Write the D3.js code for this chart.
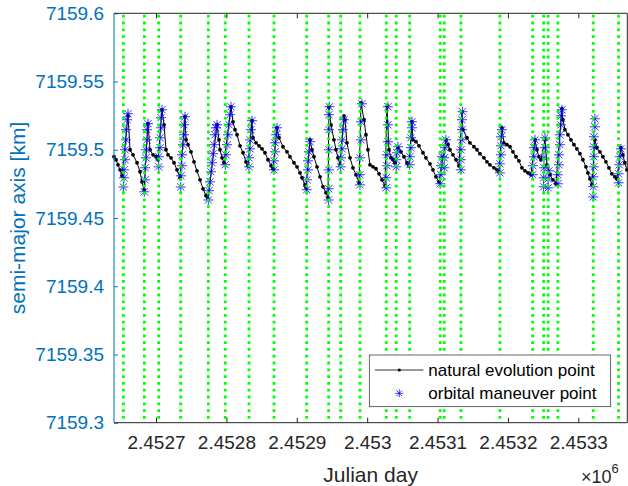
<!DOCTYPE html>
<html>
<head>
<meta charset="utf-8">
<script src="https://cdn.jsdelivr.net/npm/d3@7"></script>
<style>
body { margin: 0; background: #fff; }
svg { display: block; font-family: "Liberation Sans", Arial, Helvetica, sans-serif; }
</style>
</head>
<body>
<script>
// natural evolution points [julian day, semi-major axis km]
var naturalPoints = [
  [2452640.3,7159.4949],[2452643.2,7159.4927],[2452646.0,7159.4890],[2452648.9,7159.4853],[2452651.7,7159.4809],
  [2452660.2,7159.5249],[2452663.1,7159.5000],[2452667.3,7159.4963],[2452673.0,7159.4905],[2452677.3,7159.4839],[2452680.1,7159.4765],[2452683.0,7159.4707],
  [2452688.6,7159.5191],[2452691.5,7159.5000],[2452695.7,7159.4963],[2452700.0,7159.4949],[2452702.8,7159.4927],
  [2452708.5,7159.5293],[2452711.4,7159.5183],[2452714.2,7159.5000],[2452717.0,7159.4963],[2452721.3,7159.4941],[2452725.6,7159.4905],[2452729.8,7159.4853],[2452734.1,7159.4795],
  [2452741.2,7159.5242],[2452742.6,7159.5073],[2452745.5,7159.5037],[2452749.7,7159.4985],[2452754.0,7159.4912],[2452758.2,7159.4846],[2452762.5,7159.4780],[2452766.8,7159.4714],[2452771.0,7159.4663],[2452773.9,7159.4641],
  [2452786.7,7159.5183],[2452789.5,7159.5073],[2452790.9,7159.5000],[2452793.8,7159.4941],[2452796.6,7159.4905],
  [2452806.5,7159.5315],[2452809.4,7159.5205],[2452812.2,7159.5147],[2452815.1,7159.5110],[2452819.3,7159.5029],[2452823.6,7159.4978],[2452827.8,7159.4912],[2452830.7,7159.4883],
  [2452836.4,7159.5213],[2452837.8,7159.5088],[2452842.1,7159.5051],[2452846.3,7159.5029],[2452850.6,7159.5007],[2452854.8,7159.4978],[2452859.1,7159.4927],[2452863.4,7159.4883],[2452866.2,7159.4861],
  [2452871.9,7159.5161],[2452874.7,7159.5088],[2452880.4,7159.5022],[2452886.1,7159.4985],[2452890.3,7159.4949],[2452896.0,7159.4905],[2452900.3,7159.4875],[2452904.6,7159.4831],[2452907.4,7159.4795],[2452911.7,7159.4743],[2452913.1,7159.4721],
  [2452918.8,7159.5073],[2452921.6,7159.5000],[2452924.4,7159.4949],[2452928.7,7159.4875],[2452933.0,7159.4802],[2452937.2,7159.4729],[2452941.5,7159.4685],[2452944.3,7159.4648],
  [2452945.7,7159.5315],[2452948.6,7159.5183],[2452952.8,7159.5073],[2452955.7,7159.5000],[2452958.5,7159.4941],[2452961.4,7159.4890],
  [2452967.1,7159.5249],[2452968.5,7159.5220],[2452971.3,7159.5051],[2452975.6,7159.4941],[2452979.8,7159.4868],[2452984.1,7159.4817],[2452988.4,7159.4758],
  [2452991.2,7159.5344],[2452995.5,7159.5220],[2452998.3,7159.5110],[2453001.1,7159.5000],[2453004.0,7159.4890],[2453008.3,7159.4875],[2453012.5,7159.4861],[2453016.8,7159.4824],[2453021.0,7159.4780],[2453025.3,7159.4736],
  [2453028.1,7159.5323],[2453031.0,7159.5000],[2453033.8,7159.4941],[2453036.6,7159.4927],[2453039.5,7159.4905],
  [2453043.7,7159.5015],[2453048.0,7159.4985],[2453052.3,7159.4949],[2453056.5,7159.4905],[2453059.4,7159.4883],
  [2453063.6,7159.5205],[2453065.0,7159.5073],[2453069.3,7159.5059],[2453073.6,7159.5029],[2453079.3,7159.4978],[2453083.5,7159.4941],[2453089.2,7159.4897],[2453093.5,7159.4853],[2453097.7,7159.4802],[2453102.0,7159.4765],
  [2453111.9,7159.5073],[2453114.8,7159.5037],[2453117.6,7159.5000],[2453121.9,7159.4963],[2453126.2,7159.4927],[2453130.4,7159.4883],
  [2453134.7,7159.5279],[2453136.1,7159.5147],[2453141.8,7159.5088],[2453146.0,7159.5051],[2453151.7,7159.5022],[2453156.0,7159.5000],[2453160.2,7159.4971],[2453165.9,7159.4941],[2453170.2,7159.4912],[2453174.4,7159.4890],[2453180.1,7159.4868],[2453184.4,7159.4853],[2453187.2,7159.4839],
  [2453191.5,7159.5161],[2453194.3,7159.5051],[2453198.6,7159.5037],[2453202.9,7159.5022],[2453207.1,7159.4985],[2453211.4,7159.4949],[2453215.6,7159.4919],[2453219.9,7159.4868],[2453224.2,7159.4846],[2453228.4,7159.4831],[2453232.7,7159.4817],
  [2453238.4,7159.5073],[2453241.2,7159.5000],[2453244.0,7159.4949],[2453246.9,7159.4927],
  [2453252.6,7159.5073],[2453255.4,7159.4890],[2453259.7,7159.4817],[2453263.9,7159.4780],[2453268.2,7159.4751],
  [2453276.7,7159.5301],[2453278.1,7159.5220],[2453281.0,7159.5147],[2453285.3,7159.5110],[2453289.5,7159.5073],[2453293.8,7159.5037],[2453298.0,7159.5007],[2453302.3,7159.4971],[2453306.5,7159.4927],[2453310.8,7159.4875],[2453313.6,7159.4831],[2453316.5,7159.4787],[2453319.3,7159.4743],
  [2453323.5,7159.5073],[2453326.4,7159.5015],[2453330.7,7159.4985],[2453334.9,7159.4949],[2453339.2,7159.4912],[2453343.5,7159.4868],[2453347.7,7159.4824],[2453352.0,7159.4802],[2453354.8,7159.4787],
  [2453360.5,7159.5015],[2453363.3,7159.4963],[2453366.1,7159.4905],[2453369.0,7159.4853]
];

// orbital maneuver points [julian day, semi-major axis km]
var maneuverPoints = [
  [2452653.6,7159.4727],[2452654.5,7159.4795],[2452654.5,7159.4853],[2452656.0,7159.4927],[2452656.0,7159.5000],[2452657.4,7159.5073],[2452657.4,7159.5147],[2452658.8,7159.5220],[2452660.2,7159.5264],
  [2452683.4,7159.4692],[2452684.4,7159.4780],[2452684.4,7159.4868],[2452685.8,7159.4941],[2452685.8,7159.5000],[2452687.2,7159.5073],[2452687.2,7159.5147],[2452688.6,7159.5191],
  [2452703.8,7159.4875],[2452703.8,7159.4949],[2452705.7,7159.5015],[2452705.7,7159.5088],[2452707.1,7159.5161],[2452707.1,7159.5235],[2452708.5,7159.5293],
  [2452735.1,7159.4727],[2452735.5,7159.4809],[2452736.9,7159.4883],[2452736.9,7159.4963],[2452738.4,7159.5037],[2452739.8,7159.5110],[2452739.8,7159.5183],[2452741.2,7159.5242],
  [2452774.3,7159.4632],[2452775.3,7159.4700],[2452776.7,7159.4765],[2452778.1,7159.4839],[2452779.5,7159.4905],[2452781.0,7159.4971],[2452782.4,7159.5037],[2452783.8,7159.5110],[2452785.2,7159.5161],[2452786.7,7159.5183],
  [2452798.4,7159.4890],[2452799.4,7159.4963],[2452800.9,7159.5037],[2452802.3,7159.5110],[2452803.7,7159.5183],[2452805.1,7159.5257],[2452806.5,7159.5315],
  [2452832.1,7159.4875],[2452832.1,7159.4941],[2452833.5,7159.5007],[2452833.5,7159.5073],[2452834.9,7159.5147],[2452836.4,7159.5213],
  [2452867.6,7159.4853],[2452867.6,7159.4919],[2452869.0,7159.4985],[2452869.0,7159.5051],[2452870.5,7159.5110],[2452871.9,7159.5161],
  [2452914.1,7159.4707],[2452914.5,7159.4780],[2452915.9,7159.4853],[2452915.9,7159.4919],[2452917.3,7159.4985],[2452918.8,7159.5059],
  [2452945.3,7159.4632],[2452945.3,7159.4714],[2452945.3,7159.4853],[2452945.7,7159.5000],[2452945.7,7159.5147],[2452945.7,7159.5257],[2452946.3,7159.5315],
  [2452962.4,7159.4875],[2452962.8,7159.4941],[2452964.2,7159.5007],[2452964.2,7159.5073],[2452965.6,7159.5147],[2452967.1,7159.5220],
  [2452989.8,7159.4743],[2452989.8,7159.4817],[2452989.8,7159.4941],[2452991.2,7159.5073],[2452991.2,7159.5205],[2452992.6,7159.5337],
  [2453027.1,7159.4721],[2453027.1,7159.4795],[2453028.1,7159.4883],[2453028.1,7159.4963],[2453029.5,7159.5059],[2453029.5,7159.5183],[2453029.5,7159.5315],
  [2453041.3,7159.4875],[2453041.3,7159.4927],[2453042.3,7159.4978],[2453043.7,7159.5022],
  [2453060.4,7159.4890],[2453060.8,7159.4949],[2453062.2,7159.5015],[2453062.2,7159.5088],[2453063.6,7159.5161],[2453063.6,7159.5205],
  [2453103.8,7159.4751],[2453104.8,7159.4817],[2453104.8,7159.4883],[2453106.3,7159.4949],[2453109.5,7159.4868],[2453109.5,7159.4941],[2453110.5,7159.5015],[2453111.9,7159.5073],
  [2453133.2,7159.4853],[2453133.2,7159.4927],[2453133.2,7159.5000],[2453134.7,7159.5073],[2453134.7,7159.5147],[2453134.7,7159.5220],[2453135.4,7159.5279],
  [2453188.6,7159.4831],[2453188.6,7159.4897],[2453190.1,7159.4963],[2453190.1,7159.5029],[2453190.1,7159.5095],[2453191.5,7159.5147],
  [2453235.1,7159.4817],[2453235.5,7159.4883],[2453237.0,7159.4949],[2453237.0,7159.5015],[2453238.4,7159.5073],
  [2453250.7,7159.4729],[2453250.7,7159.4795],[2453251.2,7159.4868],[2453251.2,7159.4941],[2453252.6,7159.5015],[2453252.6,7159.5088],
  [2453257.2,7159.4721],[2453257.2,7159.4787],[2453258.3,7159.4846],
  [2453271.0,7159.4751],[2453271.0,7159.4817],[2453272.5,7159.4890],[2453272.5,7159.4963],[2453273.9,7159.5037],[2453273.9,7159.5110],[2453275.3,7159.5183],[2453275.3,7159.5249],[2453276.7,7159.5293],
  [2453321.2,7159.4654],[2453321.2,7159.4729],[2453321.2,7159.4802],[2453322.1,7159.4875],[2453322.1,7159.4949],[2453322.1,7159.5022],[2453322.1,7159.5095],[2453323.5,7159.5168],[2453323.5,7159.5227],
  [2453357.2,7159.4758],[2453357.2,7159.4824],[2453358.2,7159.4890],[2453359.1,7159.4949],[2453360.5,7159.5007]
];

// maneuver epochs (green dotted lines)
var maneuverDays = [2452653.6, 2452683.4, 2452703.8, 2452735.1, 2452774.3, 2452798.4, 2452832.1, 2452867.6,
  2452914.1, 2452945.3, 2452962.4, 2452989.8, 2453027.1, 2453041.3, 2453060.4, 2453103.8, 2453109.5,
  2453133.2, 2453188.6, 2453235.1, 2453250.7, 2453257.2, 2453271.0, 2453321.2, 2453357.2];

var xDomain = [2452640.3, 2453369.6];
var yDomain = [7159.3, 7159.6];
var xTicks = [2452700, 2452800, 2452900, 2453000, 2453100, 2453200, 2453300];
var yTicks = [7159.3, 7159.35, 7159.4, 7159.45, 7159.5, 7159.55, 7159.6];
var legendLabels = ['natural evolution point', 'orbital maneuver point'];

var width = 628, height = 486;
var axL = 114, axR = 627.3, axT = 13.3, axB = 422.7;
var blue = '#0072BD', dark = '#262626';

var svg = d3.select('body').append('svg').attr('width', width).attr('height', height);

var x = d3.scaleLinear().domain(xDomain).range([axL, axR]);
var y = d3.scaleLinear().domain(yDomain).range([axB, axT]);

var star = 'M-5,0H5M0,-5V5M-3.6,-3.6L3.6,3.6M-3.6,3.6L3.6,-3.6';

var plot = svg.append('g');

// natural evolution line
var line = d3.line().x(function(d) { return x(d[0]); }).y(function(d) { return y(d[1]); });
plot.append('path')
  .datum(naturalPoints)
  .attr('d', line)
  .attr('fill', 'none')
  .attr('stroke', '#000')
  .attr('stroke-width', 1);

plot.selectAll('circle.nat')
  .data(naturalPoints)
  .enter().append('circle').attr('class', 'nat')
  .attr('cx', function(d) { return x(d[0]); })
  .attr('cy', function(d) { return y(d[1]); })
  .attr('r', 1.9)
  .attr('fill', '#000');

// maneuver asterisks
plot.selectAll('path.man')
  .data(maneuverPoints)
  .enter().append('path').attr('class', 'man')
  .attr('d', star)
  .attr('transform', function(d) { return 'translate(' + x(d[0]) + ',' + y(d[1]) + ')'; })
  .attr('fill', 'none')
  .attr('stroke', '#0000ff')
  .attr('stroke-width', 0.8);

// green dotted maneuver lines
plot.selectAll('line.mv')
  .data(maneuverDays)
  .enter().append('line').attr('class', 'mv')
  .attr('x1', x).attr('x2', x)
  .attr('y1', axT + 1.5).attr('y2', axB)
  .attr('stroke', '#00ff00')
  .attr('stroke-width', 2.8)
  .attr('stroke-dasharray', '2.8,4');

// axes
var fmtX = function(d) { return String(+(d / 1e6).toFixed(4)); };
var fmtY = function(d) { return String(+d.toFixed(2)); };

var gx = svg.append('g').attr('transform', 'translate(0,' + axB + ')')
  .call(d3.axisBottom(x).tickValues(xTicks).tickFormat(fmtX).tickSize(-5).tickPadding(13));
var gxt = svg.append('g').attr('transform', 'translate(0,' + axT + ')')
  .call(d3.axisTop(x).tickValues(xTicks).tickFormat('').tickSize(-5));
var gy = svg.append('g').attr('transform', 'translate(' + axL + ',0)')
  .call(d3.axisLeft(y).tickValues(yTicks).tickFormat(fmtY).tickSize(-4).tickPadding(10));

[gx, gxt, gy].forEach(function(g) { g.select('.domain').remove(); });
gx.selectAll('line').attr('stroke', dark);
gxt.selectAll('line').attr('stroke', dark);
gx.selectAll('text').attr('fill', dark).style('font-size', '19px');
gy.selectAll('line').attr('stroke', blue);
gy.selectAll('text').attr('fill', blue).style('font-size', '19px');

// box
svg.append('line').attr('x1', axL).attr('x2', axR).attr('y1', axT).attr('y2', axT).attr('stroke', dark);
svg.append('line').attr('x1', axL).attr('x2', axR).attr('y1', axB).attr('y2', axB).attr('stroke', dark);
svg.append('line').attr('x1', axR).attr('x2', axR).attr('y1', axT).attr('y2', axB).attr('stroke', dark);
svg.append('line').attr('x1', axL).attr('x2', axL).attr('y1', axT).attr('y2', axB).attr('stroke', blue);

// labels
svg.append('text')
  .attr('x', (axL + axR) / 2).attr('y', 482)
  .attr('text-anchor', 'middle')
  .attr('fill', dark)
  .style('font-size', '21px')
  .text('Julian day');

svg.append('text')
  .attr('transform', 'translate(25,' + (axT + axB) / 2 + ') rotate(-90)')
  .attr('text-anchor', 'middle')
  .attr('fill', blue)
  .style('font-size', '21px')
  .text('semi-major axis [km]');

var ex = svg.append('text').attr('x', 581).attr('y', 483).attr('fill', dark).style('font-size', '18px');
ex.append('tspan').text('\u00d710');
ex.append('tspan').attr('dy', -10).style('font-size', '13px').text('6');

// legend
var lg = svg.append('g');
lg.append('rect')
  .attr('x', 369.3).attr('y', 355).attr('width', 241.4).attr('height', 51.7)
  .attr('fill', '#fff').attr('stroke', dark).attr('stroke-width', 0.7);
lg.append('line').attr('x1', 375).attr('x2', 423.3).attr('y1', 370).attr('y2', 370)
  .attr('stroke', '#000').attr('stroke-width', 0.8);
lg.append('circle').attr('cx', 399.3).attr('cy', 370).attr('r', 1.6).attr('fill', '#000');
lg.append('path').attr('d', star).attr('transform', 'translate(399.3,393.3) scale(0.8)')
  .attr('fill', 'none').attr('stroke', '#0000ff').attr('stroke-width', 0.9);
lg.selectAll('text.lg')
  .data(legendLabels)
  .enter().append('text').attr('class', 'lg')
  .attr('x', 428.3)
  .attr('y', function(d, i) { return 376 + i * 23.3; })
  .attr('fill', '#000')
  .style('font-size', '17px')
  .text(function(d) { return d; });
</script>
</body>
</html>
